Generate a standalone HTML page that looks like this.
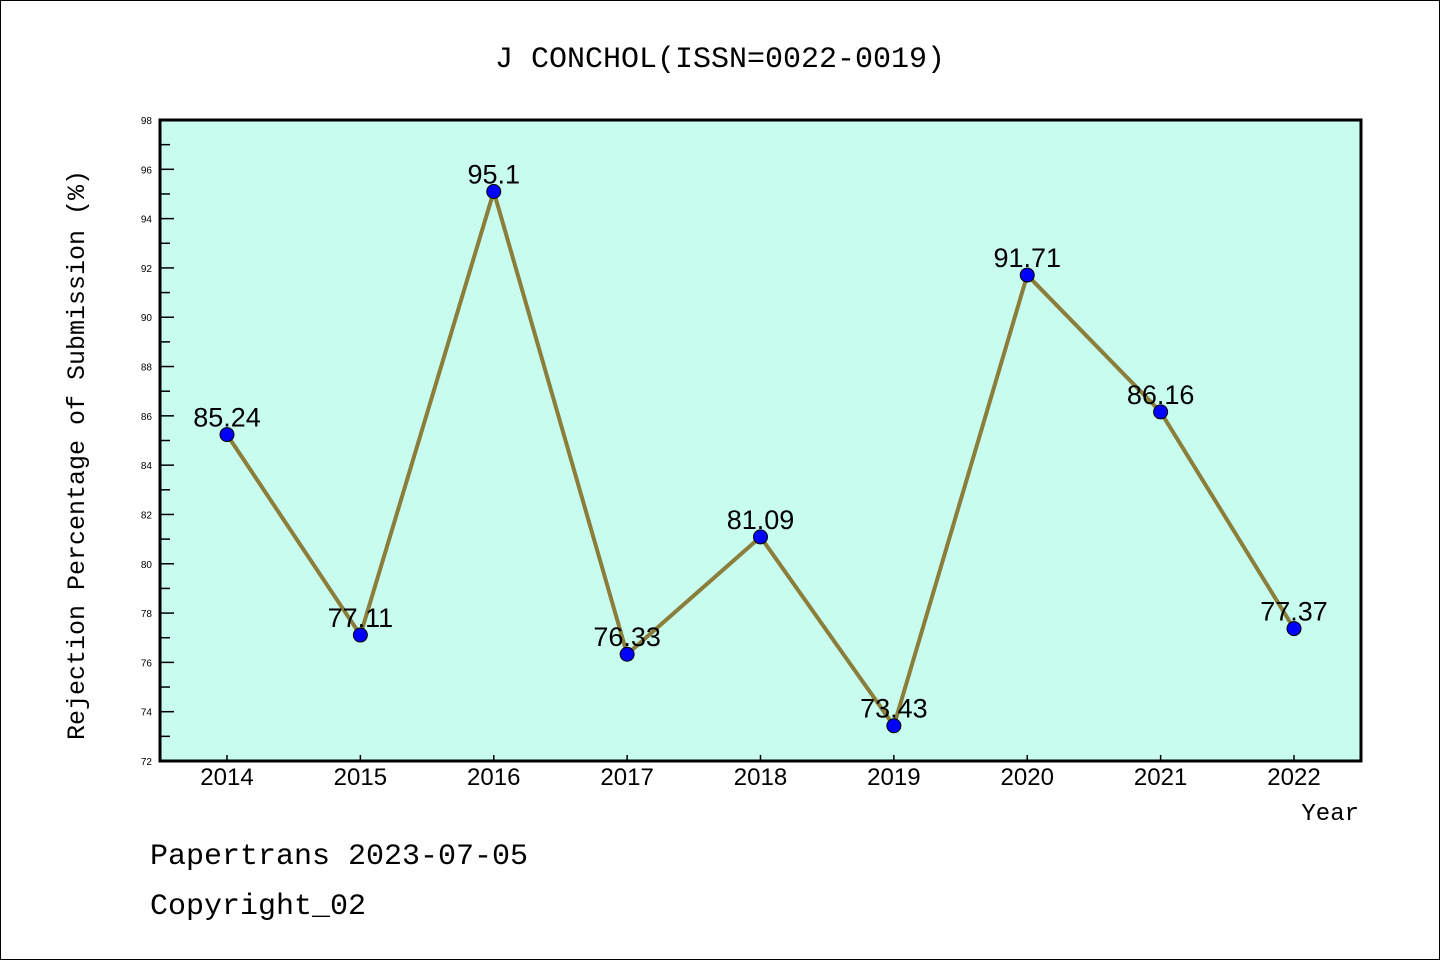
<!DOCTYPE html>
<html><head><meta charset="utf-8"><style>
html,body{margin:0;padding:0;background:#fff}
svg{display:block}
</style></head><body>
<svg width="1440" height="960" xmlns="http://www.w3.org/2000/svg">
<rect x="0.5" y="0.5" width="1439" height="959" fill="#fff" stroke="#000" stroke-width="1"/>
<text x="720" y="67" text-anchor="middle" font-family="'Liberation Mono','WenQuanYi Zen Hei',monospace" font-size="30">J CONCHOL(ISSN=0022-0019)</text>
<rect x="160" y="120" width="1201" height="641" fill="#c8fcee"/>
<g id="axes"></g>
<g id="marks"></g>
<rect x="160" y="120" width="1201" height="641" fill="none" stroke="#000" stroke-width="3"/>
<text transform="translate(84,455) rotate(-90)" text-anchor="middle" font-family="'Liberation Mono','WenQuanYi Zen Hei',monospace" font-size="25">Rejection Percentage of Submission (%)</text>
<text x="1359" y="820" text-anchor="end" font-family="'Liberation Mono',monospace" font-size="24">Year</text>
<text x="150" y="864" font-family="'Liberation Mono',monospace" font-size="30">Papertrans 2023-07-05</text>
<text x="150" y="914" font-family="'Liberation Mono',monospace" font-size="30">Copyright_02</text>
</svg>
<script>
const years = ['2014','2015','2016','2017','2018','2019','2020','2021','2022'];
const rates = [85.24, 77.11, 95.1, 76.33, 81.09, 73.43, 91.71, 86.16, 77.37];
const labels = ['85.24','77.11','95.1','76.33','81.09','73.43','91.71','86.16','77.37'];
const yTicks = [72,74,76,78,80,82,84,86,88,90,92,94,96,98];

const NS='http://www.w3.org/2000/svg';
const yMin=72,yMax=98,plotTop=120,plotBot=761;
function yS(v){return plotBot-(v-yMin)/(yMax-yMin)*(plotBot-plotTop);}
function xS(i){return 227+i*(1294-227)/(years.length-1);}
function mk(tag,attrs,parent){const e=document.createElementNS(NS,tag);for(const k in attrs)e.setAttribute(k,attrs[k]);parent.appendChild(e);return e;}
const axes=document.getElementById('axes'),marks=document.getElementById('marks');
yTicks.forEach(t=>{
  const y=yS(t);
  const l=mk('line',{x1:160,x2:174,y1:y,y2:y,stroke:'#000','stroke-width':1.5},axes);
  
  
  const tx=mk('text',{x:152,y:y+4,'text-anchor':'end','font-family':'Liberation Sans,sans-serif','font-size':10},axes);
  tx.textContent=t;
  
  
  if(t<yMax){const ym=yS(t+1);
    const m=mk('line',{x1:160,x2:170,y1:ym,y2:ym,stroke:'#000','stroke-width':1.5},axes);
    
    }
});
years.forEach((yr,i)=>{
  const x=xS(i);
  const l=mk('line',{x1:x,x2:x,y1:plotBot,y2:plotBot-6,stroke:'#000','stroke-width':1.5},axes);
  
  
  const tx=mk('text',{x:x,y:785,'text-anchor':'middle','font-family':'Liberation Sans,sans-serif','font-size':24},axes);
  tx.textContent=yr;
  
  
});
const pts=rates.map((v,i)=>xS(i)+','+yS(v)).join(' ');
const pl=mk('polyline',{points:pts,fill:'none',stroke:'#8b7d3a','stroke-width':4,'stroke-linejoin':'round'},marks);


rates.forEach((v,i)=>{
  const c=mk('circle',{cx:xS(i),cy:yS(v),r:7,fill:'#0000ff',stroke:'#000','stroke-width':1},marks);
  
  
  const t=mk('text',{x:xS(i),y:yS(v)-8,'text-anchor':'middle','font-family':'Liberation Sans,sans-serif','font-size':27},marks);
  t.textContent=labels[i];
  
  
});
</script>
</body></html>
